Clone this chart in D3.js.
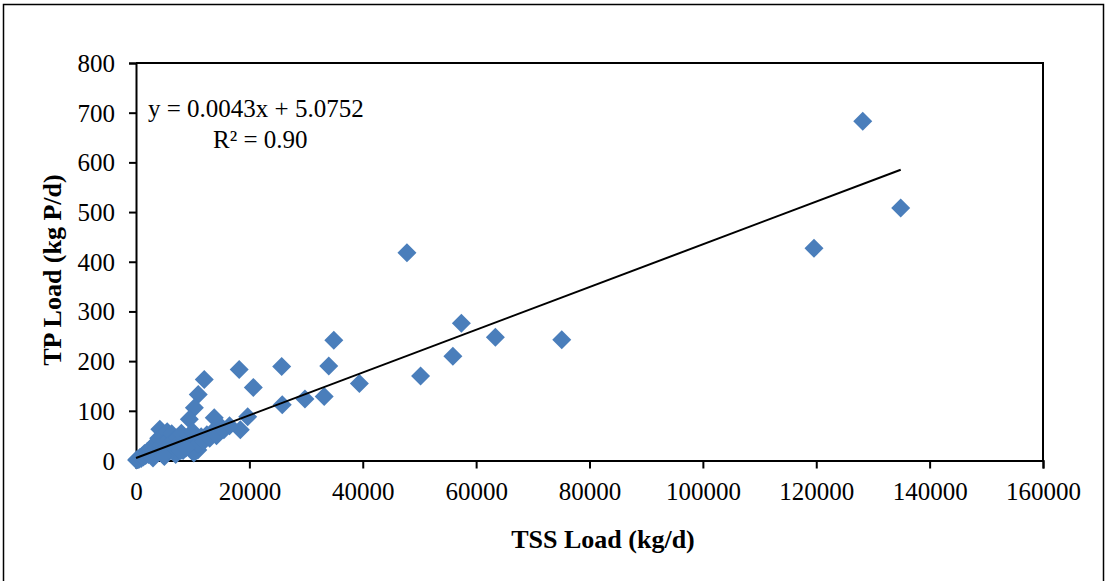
<!DOCTYPE html>
<html>
<head>
<meta charset="utf-8">
<script src="https://cdn.jsdelivr.net/npm/d3@7"></script>
<style>
  html, body { margin: 0; padding: 0; background: #fff; }
  svg { display: block; }
  text { font-family: "Liberation Serif", "Times New Roman", serif; fill: #000; }
</style>
</head>
<body>
<svg id="chart" width="1106" height="581"></svg>
<script>
// ---- data ----
const tssLoad = [
  128200, 134900, 119600, 47800, 57400, 63400, 75100, 55900, 50200, 34900,
  34000, 39400, 33200, 29800, 25700, 25800, 20700, 18200, 12040, 10980,
  10300, 9400, 13800, 19700, 18400, 15000, 10900, 10200,
  100, 300, 500, 700, 900, 1100, 1300, 1500, 1700, 2000,
  2200, 2500, 2700, 3000, 3200, 3500, 3700, 4000, 4200, 4400,
  4700, 5000, 5200, 5500, 5800, 6000, 6300, 6600, 7000, 7300,
  7700, 8000, 8300, 8600, 9000, 9300, 9700, 10000, 10400, 11000,
  11500, 12000, 12500, 13000, 13500, 14200, 15500, 16500, 7000, 5000,
  3000, 7900, 4900, 8800
];
const tpLoad = [
  683, 508, 427, 418, 276, 248, 243, 210, 170, 242,
  190, 155, 129, 124, 189, 112, 147, 183, 163, 133,
  106, 83, 86, 88, 62, 68, 21, 15,
  1, 3, 2, 6, 4, 9, 7, 14, 10, 18,
  12, 22, 16, 28, 19, 35, 24, 45, 63, 30,
  50, 38, 27, 58, 44, 33, 54, 40, 29, 47,
  36, 55, 20, 42, 30, 50, 38, 58, 45, 33,
  48, 40, 52, 45, 58, 50, 62, 70, 12, 8,
  5, 20, 10, 25
];
const xTicks = [0, 20000, 40000, 60000, 80000, 100000, 120000, 140000, 160000];
const yTicks = [0, 100, 200, 300, 400, 500, 600, 700, 800];
const slope = 0.0043, intercept = 5.0752;
const eqText = "y = 0.0043x + 5.0752";
const r2Text = "R² = 0.90";
const xTitle = "TSS Load (kg/d)";
const yTitle = "TP Load (kg P/d)";

// ---- layout ----
const svg = d3.select("#chart");
const L = 136, R = 1043, T = 63, B = 460.5;
const x = d3.scaleLinear().domain([0, 160000]).range([L, R]);
const y = d3.scaleLinear().domain([0, 800]).range([B, T]);

// outer frame
svg.append("rect").attr("x", 3.5).attr("y", 4.5).attr("width", 1100).attr("height", 600)
  .attr("fill", "none").attr("stroke", "#000").attr("stroke-width", 1.5);

// plot area frame (top and right)
svg.append("path")
  .attr("d", `M${L},${T}H${R}V${B}`)
  .attr("fill", "none").attr("stroke", "#000").attr("stroke-width", 2);

// axes
const fmt = d3.format("d");
const yAxis = svg.append("g").attr("transform", `translate(${L},0)`)
  .call(d3.axisLeft(y).tickValues(yTicks).tickFormat(fmt).tickSize(7).tickPadding(14));
const xAxis = svg.append("g").attr("transform", `translate(0,${B})`)
  .call(d3.axisBottom(x).tickValues(xTicks).tickFormat(fmt).tickSize(8).tickPadding(14));
[xAxis, yAxis].forEach(g => {
  g.select(".domain").attr("stroke", "#000").attr("stroke-width", 2);
  g.selectAll(".tick line").attr("stroke", "#000").attr("stroke-width", 2);
  g.selectAll(".tick text").style("font-family", "'Liberation Serif', 'Times New Roman', serif")
    .style("font-size", "25px").attr("fill", "#000");
});
yAxis.selectAll(".tick text").attr("dy", "0.34em");

// points
const pts = tssLoad.map((v, i) => [v, tpLoad[i]]);
const rr = 9.5;
svg.append("g").selectAll("path").data(pts).join("path")
  .attr("d", `M0,${-rr}L${rr},0L0,${rr}L${-rr},0Z`)
  .attr("transform", d => `translate(${x(d[0])},${y(d[1])})`)
  .attr("fill", "#4a7ebb");

// trendline
const xMin = d3.min(tssLoad.filter(v => v > 0).concat([0])), xMax = d3.max(tssLoad);
svg.append("line")
  .attr("x1", x(0)).attr("y1", y(intercept))
  .attr("x2", x(xMax)).attr("y2", y(slope * xMax + intercept))
  .attr("stroke", "#000").attr("stroke-width", 2);

// equation
svg.append("text").attr("x", 148).attr("y", 117).style("font-size", "25px").text(eqText);
svg.append("text").attr("x", 213).attr("y", 148).style("font-size", "25px").text(r2Text);

// axis titles
svg.append("text").attr("x", 603).attr("y", 548).attr("text-anchor", "middle")
  .style("font-size", "26px").style("font-weight", "bold").text(xTitle);
svg.append("text").attr("transform", "translate(61,270) rotate(-90)").attr("text-anchor", "middle")
  .style("font-size", "26px").style("font-weight", "bold").text(yTitle);
</script>
</body>
</html>
